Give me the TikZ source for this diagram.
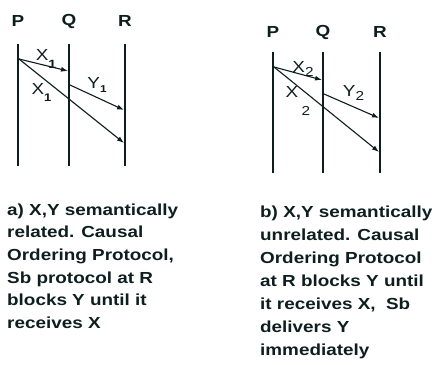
\documentclass[tikz,border=0pt]{standalone}
\usepackage{fontspec}
\setmainfont[FakeStretch=1.18]{Liberation Sans}
\usetikzlibrary{arrows.meta}
\definecolor{ink}{RGB}{14,30,30}
% lowered index after a message name
\newcommand{\idx}[3]{\raisebox{#1}{\fontsize{#2}{#2}\selectfont #3}}

\begin{document}
\begin{tikzpicture}[x=1pt,y=1pt]
    \tikzstyle{proc} = [font=\bfseries\fontsize{16}{16}\selectfont, text=ink]
    \tikzstyle{life} = [draw=ink, line width=2.6pt]
    \tikzstyle{msg} = [draw=ink, line width=1.1pt, -{Latex[length=7pt,width=5pt]}]
    \tikzstyle{lbl} = [font=\fontsize{16}{16}\selectfont, text=ink, inner sep=0pt]
    \tikzstyle{note} = [align=left, anchor=north west, inner sep=0pt, text=ink]
    \useasboundingbox (0,0) rectangle (435,364);

    % case a)
    \node (pa) [proc] at (18,343) {P};
    \node (qa) [proc] at (69,343) {Q};
    \node (ra) [proc] at (125,343) {R};
    \coordinate (pat) at (18,320);  \coordinate (pab) at (18,198);
    \coordinate (qat) at (69,320);  \coordinate (qab) at (69,198);
    \coordinate (rat) at (125,320); \coordinate (rab) at (125,198);
    \draw[life] (pat) -- (pab);
    \draw[life] (qat) -- (qab);
    \draw[life] (rat) -- (rab);
    \coordinate (sa) at (19,305);
    \coordinate (xqa) at (68,293);
    \coordinate (yqa) at (70,279);
    \coordinate (yra) at (124,254);
    \coordinate (xra) at (124,221);
    \draw[msg] (sa) -- (xqa);
    \draw[msg] (sa) -- (xra);
    \draw[msg] (yqa) -- (yra);
    \node (xa1) [lbl] at (46,305.5) {X\idx{-8pt}{12}{\bfseries 1}};
    \node (xa2) [lbl] at (41.5,271.5) {X\idx{-7pt}{11}{\bfseries 1}};
    \node (ya) [lbl] at (97,279.5) {Y\idx{-4pt}{10}{\bfseries 1}};
    \node (ta) [note, font=\bfseries\fontsize{16}{22.7}\selectfont] at (7,160.7)
        {a) X,Y semantically\\related. Causal\\Ordering Protocol,\\Sb protocol at R\\blocks Y until it\\receives X};

    % case b)
    \node (pb) [proc] at (273,332) {P};
    \node (qb) [proc] at (323,332) {Q};
    \node (rb) [proc] at (380,332) {R};
    \coordinate (pbt) at (273,312); \coordinate (pbb) at (273,191);
    \coordinate (qbt) at (323,312); \coordinate (qbb) at (323,191);
    \coordinate (rbt) at (380,312); \coordinate (rbb) at (380,191);
    \draw[life] (pbt) -- (pbb);
    \draw[life] (qbt) -- (qbb);
    \draw[life] (rbt) -- (rbb);
    \coordinate (sb) at (274,297);
    \coordinate (xqb) at (322,284);
    \coordinate (yqb) at (324,270);
    \coordinate (yrb) at (379,246);
    \coordinate (xrb) at (379,212);
    \draw[msg] (sb) -- (xqb);
    \draw[msg] (sb) -- (xrb);
    \draw[msg] (yqb) -- (yrb);
    \node (xb1) [lbl] at (303,295.5) {X\idx{-4pt}{13}{2}};
    \node (xb2) [lbl] at (292,272) {X};
    \node (xb2i) [lbl, font=\fontsize{13}{13}\selectfont] at (306,253) {2};
    \node (yb) [lbl] at (353.5,271.5) {Y\idx{-4pt}{13}{2}};
    \node (tb) [note, font=\bfseries\fontsize{16}{23}\selectfont] at (260,158.7)
        {b) X,Y semantically\\unrelated. Causal\\Ordering Protocol\\at R blocks Y until\\it receives X,\ \ Sb\\delivers Y\\immediately};
\end{tikzpicture}
\end{document}
